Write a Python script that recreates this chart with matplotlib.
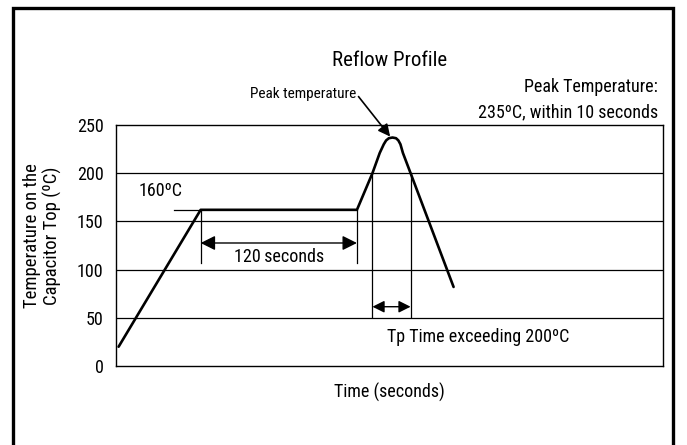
import matplotlib
matplotlib.use("Agg")
import matplotlib.pyplot as plt
from matplotlib.patches import Rectangle

plt.rcParams['font.family'] = ['Roboto Condensed', 'Liberation Sans Narrow', 'Roboto', 'DejaVu Sans']

# reflow profile (time in s, temperature in degC)
profile_time = [2, 65, 185, 196.9, 202.5, 205.6, 207.4, 209.5, 212.3, 215.0, 216.8, 218.4, 220.3, 226.2, 259.2]
profile_temp = [20, 162, 162, 200, 221, 230, 234, 236.3, 237, 236.3, 234, 230, 221, 200, 82]

soak_start, soak_end = 65, 185
soak_temp = 162
tp_start, tp_end = 196.9, 226.2
y_ticks = [0, 50, 100, 150, 200, 250]

fig = plt.figure(figsize=(6.87, 4.45), dpi=100)
ax = fig.add_axes([116 / 687, 1 - 366 / 445, 547 / 687, 241 / 445])

# outer frame of the picture
fig.patches.append(Rectangle((13 / 687, -0.1), 660 / 687, 1.1 - 8 / 445,
                             transform=fig.transFigure, fill=False,
                             edgecolor='black', linewidth=2.4))

ax.set_xlim(0, 420)
ax.set_ylim(0, 250)
ax.set_xticks([])
ax.set_yticks(y_ticks)
ax.tick_params(axis='y', length=0, pad=9, labelsize=13)
for s in ax.spines.values():
    s.set_linewidth(1.0)
for t in y_ticks[1:-1]:
    ax.axhline(t, color='black', lw=0.9)

ax.plot(profile_time, profile_temp, color='black', lw=1.9,
        solid_joinstyle='round', solid_capstyle='round')

# 160 marker and soak span
ax.plot([44.6, soak_start], [soak_temp, soak_temp], color='black', lw=0.9)
ax.text(17.7, 182, '160ºC', fontsize=13, va='center', ha='left')
for x in (soak_start, soak_end):
    ax.plot([x, x], [soak_temp, 107], color='black', lw=0.9)
ax.annotate('', xy=(soak_end, 127.6), xytext=(soak_start, 127.6),
            arrowprops=dict(arrowstyle='<|-|>', lw=1.0, color='black',
                            mutation_scale=22, shrinkA=0, shrinkB=0))
ax.text((soak_start + soak_end) / 2, 113, '120\u2009seconds', fontsize=13,
        ha='center', va='center')

# time above 200
for x in (tp_start, tp_end):
    ax.plot([x, x], [200, 51], color='black', lw=0.9)
ax.annotate('', xy=(tp_end, 61.5), xytext=(tp_start, 61.5),
            arrowprops=dict(arrowstyle='<|-|>', lw=1.0, color='black',
                            mutation_scale=18, shrinkA=0, shrinkB=0))
ax.text(278, 30, 'Tp Time exceeding 200ºC', fontsize=13, ha='center', va='center')

# peak annotations
ax.text(184.6, 282, 'Peak temperature', fontsize=11, ha='right', va='center', clip_on=False)
ax.annotate('', xy=(210.5, 238), xytext=(186.2, 279.5), annotation_clip=False,
            arrowprops=dict(arrowstyle='-|>', lw=1.2, color='black',
                            mutation_scale=18, shrinkA=0, shrinkB=0))
ax.text(416, 289.4, 'Peak Temperature:', fontsize=13, ha='right', va='center', clip_on=False)
ax.text(416, 263.5, '235ºC, within 10 seconds', fontsize=13, ha='right', va='center', clip_on=False)

ax.text(210, 316.4, 'Reflow Profile', fontsize=15, ha='center', va='center', clip_on=False)

ax.set_xlabel('Time (seconds)', fontsize=13, labelpad=12)
ax.set_ylabel('Temperature on the\nCapacitor Top (ºC)', fontsize=13.5, linespacing=1.15)
ax.yaxis.set_label_coords(-0.0987, 0.54)

fig.savefig('out.png', dpi=100)
